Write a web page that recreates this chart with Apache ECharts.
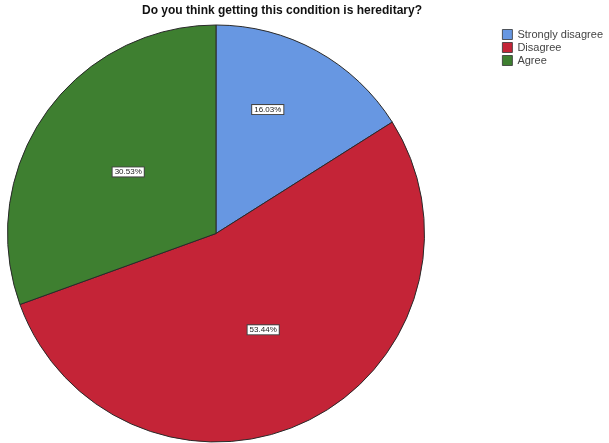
<!DOCTYPE html>
<html><head><meta charset="utf-8">
<script src="https://cdn.jsdelivr.net/npm/echarts@6/dist/echarts.min.js"></script>
<style>html,body{margin:0;padding:0;background:#fff}#c{width:609px;height:443px}</style>
</head><body><div id="c"></div>
<script>
const categories = ['Strongly disagree', 'Disagree', 'Agree'];
const values = [16.03, 53.44, 30.53];
const colors = ['#6797e2', '#c42437', '#3e7f30'];
const titleText = 'Do you think getting this condition is hereditary?';

const chart = echarts.init(document.getElementById('c'), null, {renderer: 'canvas'});
chart.setOption({
  animation: false,
  backgroundColor: '#ffffff',
  title: {
    text: titleText, left: 142, top: 5, padding: 0,
    textStyle: {fontFamily: 'Liberation Sans', fontSize: 12, fontWeight: 'bold', color: '#111'}
  },
  legend: {
    orient: 'vertical', left: 502, top: 29, padding: 0,
    itemWidth: 10, itemHeight: 10, itemGap: 2,
    icon: 'rect',
    textStyle: {fontFamily: 'Liberation Sans', fontSize: 11, color: '#444', padding: [0,0,0,0]},
    itemStyle: {borderColor: '#333', borderWidth: 0.8},
    data: categories
  },
  series: [{
    type: 'pie',
    center: [216, 233.5],
    radius: [0, 208.5],
    startAngle: 90,
    clockwise: true,
    silent: true,
    itemStyle: {borderColor: '#2a2a2a', borderWidth: 1},
    label: {
      show: true, position: 'inside',
      formatter: p => p.value.toFixed(2) + '%',
      fontFamily: 'Liberation Sans', fontSize: 8, color: '#222',
      backgroundColor: '#fff', borderColor: '#444', borderWidth: 1,
      padding: [1, 2, 0, 2]
    },
    labelLayout: p => (p.dataIndex === 0 ? {dy: -30} : {}),
    labelLine: {show: false},
    data: categories.map((c, i) => ({name: c, value: values[i], itemStyle: {color: colors[i]}}))
  }]
});
</script></body></html>
